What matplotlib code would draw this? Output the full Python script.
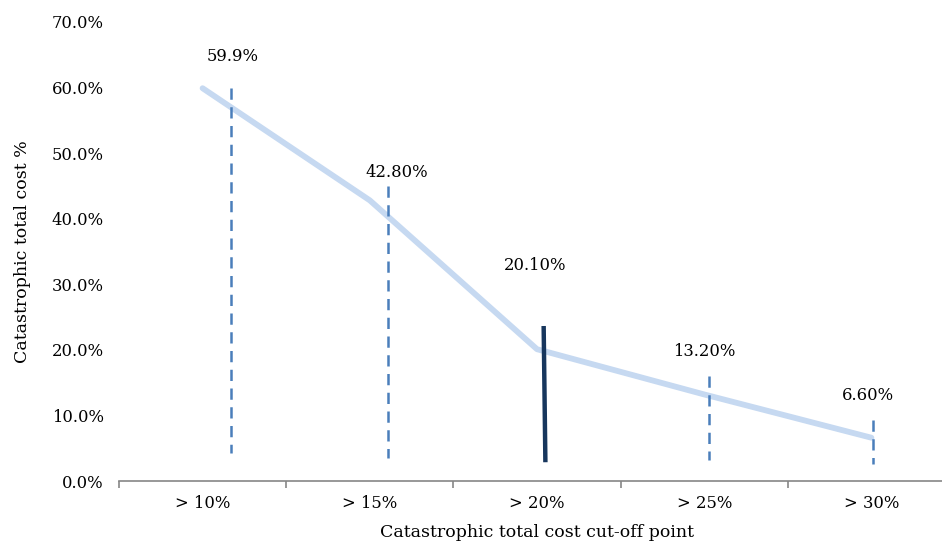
import numpy as np
import matplotlib.pyplot as plt

categories = ['> 10%', '> 15%', '> 20%', '> 25%', '> 30%']
values = [59.9, 42.8, 20.1, 13.2, 6.6]
value_labels = ['59.9%', '42.80%', '20.10%', '13.20%', '6.60%']

# vertical marker lines
marker_x = [0.17, 0.11, 0.04, 0.03, 0.01]       # offset from category centre
marker_top = [60.0, 45.0, 23.3, 16.0, 9.3]
marker_bottom = [4.3, 3.5, 3.2, 3.2, 2.6]
marker_solid = [False, False, True, False, False]

# label placement
label_dx = [0.18, 0.16, -0.01, 0.0, -0.02]
label_y = [64.8, 47.0, 32.8, 19.7, 13.1]

plt.rcParams['font.family'] = ['DejaVu Serif']

fig = plt.figure(figsize=(9.42, 5.44), dpi=100)
ax = fig.add_axes([119 / 942, 63 / 544, 836 / 942, 459 / 544])

x = np.arange(len(categories))
ax.plot(x, values, color='#c6d9f1', lw=4.2, solid_capstyle='round', zorder=2)

for i in range(len(categories)):
    xm = x[i] + marker_x[i]
    if marker_solid[i]:
        ax.plot([xm, xm + 0.01], [marker_top[i], marker_bottom[i]], color='#17365d', lw=3.2, zorder=3)
    else:
        ax.plot([xm, xm], [marker_top[i], marker_bottom[i]], color='#4a7ebb', lw=1.8,
                dashes=(4.5, 3), zorder=3)
    ax.text(x[i] + label_dx[i], label_y[i], value_labels[i], ha='center', va='center', fontsize=11.8)

ax.set_xlim(-0.5, 4.5)
ax.set_ylim(0, 70)
ax.set_yticks(np.arange(0, 71, 10))
ax.set_yticklabels([f'{v:.1f}%' for v in np.arange(0, 71, 10)], fontsize=11.8)
ax.set_xticks(np.arange(-0.5, 4.6, 1))
ax.set_xticklabels([])
ax.set_xticks(x, minor=True)
ax.set_xticklabels(categories, minor=True, fontsize=11.8)
ax.tick_params(axis='x', which='major', length=5, color='#868686', width=1.2, direction='out')
ax.tick_params(axis='x', which='minor', length=0, pad=10)
ax.tick_params(axis='y', length=0, pad=11)

for s in ['top', 'right', 'left']:
    ax.spines[s].set_visible(False)
ax.spines['bottom'].set_color('#868686')
ax.spines['bottom'].set_linewidth(1.2)

ax.set_xlabel('Catastrophic total cost cut-off point', fontsize=12.5, labelpad=9)
ax.set_ylabel('Catastrophic total cost %', fontsize=12.5, labelpad=14.5)

fig.savefig('out.png', dpi=100)
